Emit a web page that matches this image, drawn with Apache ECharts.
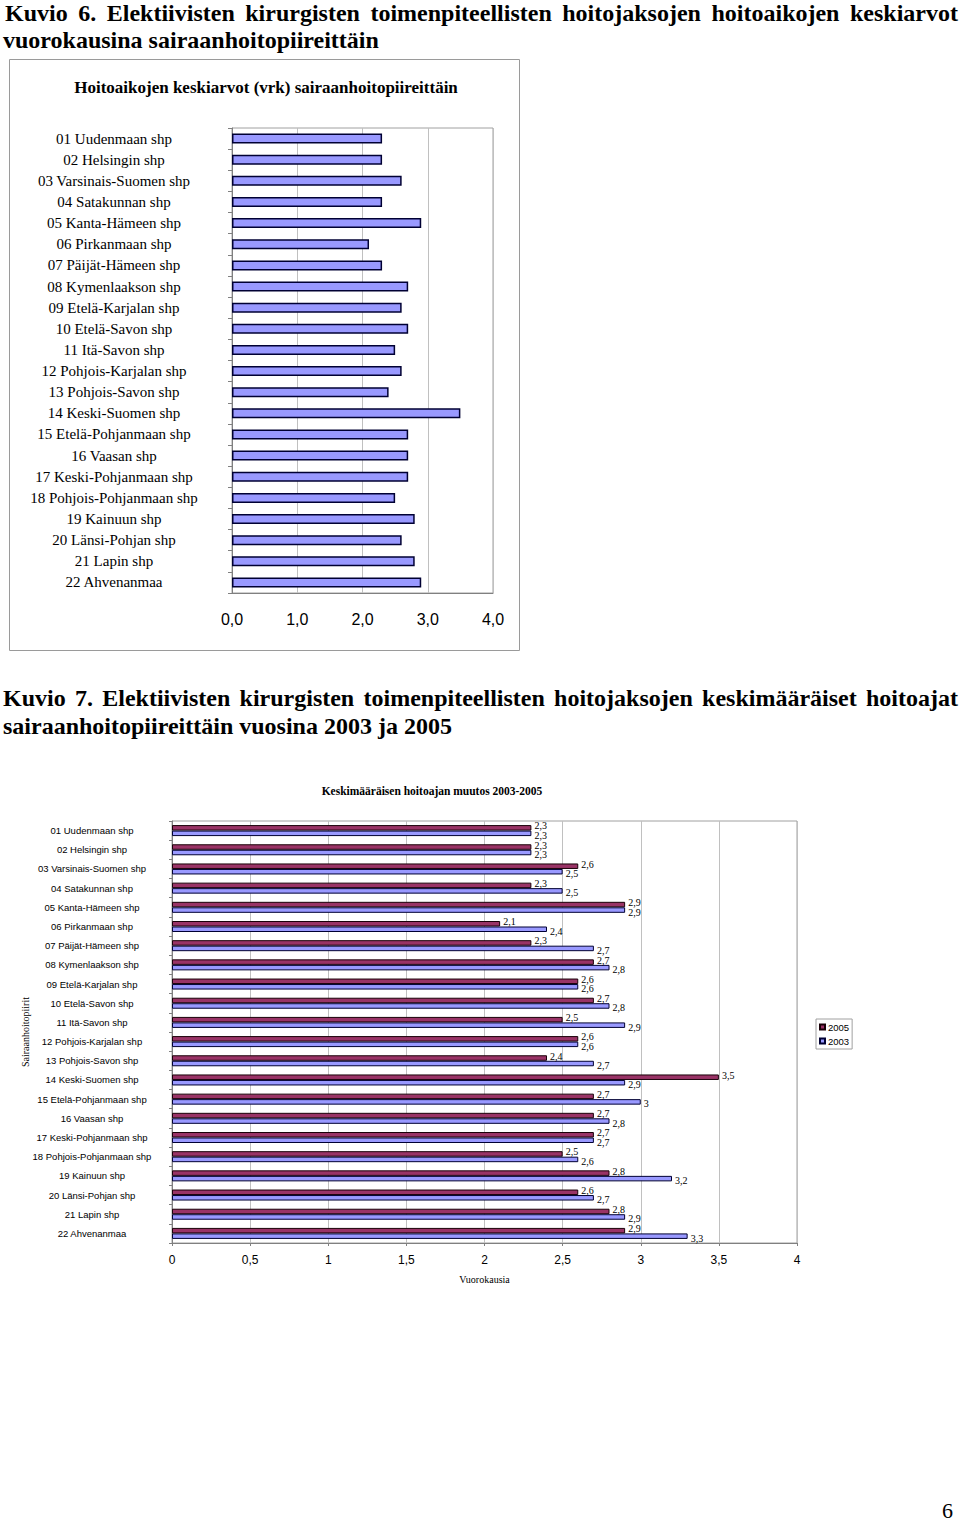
<!DOCTYPE html>
<html><head><meta charset="utf-8">
<script src="https://cdn.jsdelivr.net/npm/echarts@6/dist/echarts.min.js"></script>
<style>
html,body{margin:0;padding:0;background:#fff;}
#page{position:relative;width:960px;height:1524px;overflow:hidden;background:#fff;}
#chart{position:absolute;left:0;top:0;width:960px;height:1524px;}
.h{position:absolute;font-family:'Liberation Serif','Times New Roman',serif;font-weight:bold;font-size:24px;line-height:27px;color:#000;white-space:nowrap;}
.j{text-align:justify;text-align-last:justify;white-space:normal;}
.pn{position:absolute;font-family:'Liberation Serif',serif;font-size:22px;line-height:22px;color:#000;left:942px;top:1500px;}
</style></head>
<body><div id="page">
<div id="chart"></div>
<div class="h j" style="left:5px;top:0px;width:953px;">Kuvio 6. Elektiivisten kirurgisten toimenpiteellisten hoitojaksojen hoitoaikojen keskiarvot</div>
<div class="h" style="left:3px;top:27px;">vuorokausina sairaanhoitopiireittäin</div>
<div class="h j" style="left:3px;top:685px;width:955px;">Kuvio 7. Elektiivisten kirurgisten toimenpiteellisten hoitojaksojen keskimääräiset hoitoajat</div>
<div class="h" style="left:3px;top:713px;">sairaanhoitopiireittäin vuosina 2003 ja 2005</div>
<div class="pn">6</div>
</div>
<script>
const categories = ['01 Uudenmaan shp','02 Helsingin shp','03 Varsinais-Suomen shp','04 Satakunnan shp','05 Kanta-Hämeen shp','06 Pirkanmaan shp','07 Päijät-Hämeen shp','08 Kymenlaakson shp','09 Etelä-Karjalan shp','10 Etelä-Savon shp','11 Itä-Savon shp','12 Pohjois-Karjalan shp','13 Pohjois-Savon shp','14 Keski-Suomen shp','15 Etelä-Pohjanmaan shp','16 Vaasan shp','17 Keski-Pohjanmaan shp','18 Pohjois-Pohjanmaan shp','19 Kainuun shp','20 Länsi-Pohjan shp','21 Lapin shp','22 Ahvenanmaa'];
const kuvio6Values = [2.3,2.3,2.6,2.3,2.9,2.1,2.3,2.7,2.6,2.7,2.5,2.6,2.4,3.5,2.7,2.7,2.7,2.5,2.8,2.6,2.8,2.9];
const values2005 = [2.3,2.3,2.6,2.3,2.9,2.1,2.3,2.7,2.6,2.7,2.5,2.6,2.4,3.5,2.7,2.7,2.7,2.5,2.8,2.6,2.8,2.9];
const values2003 = [2.3,2.3,2.5,2.5,2.9,2.4,2.7,2.8,2.6,2.8,2.9,2.6,2.7,2.9,3.0,2.8,2.7,2.6,3.2,2.7,2.9,3.3];
const seriesNames = ['2005','2003'];
const title6 = 'Hoitoaikojen keskiarvot (vrk) sairaanhoitopiireittäin';
const title7 = 'Keskimääräisen hoitoajan muutos 2003-2005';
const xName7 = 'Vuorokausia';
const yName7 = 'Sairaanhoitopiirit';

const serif = '"Liberation Serif","Times New Roman",serif';
const sans = '"Liberation Sans",Arial,sans-serif';
const comma = v => String(v).replace('.', ',');

const chart = echarts.init(document.getElementById('chart'), null, {renderer: 'svg', width: 960, height: 1524});
chart.setOption({
  animation: false,
  backgroundColor: 'transparent',
  graphic: [
    {type: 'rect', shape: {x: 9.5, y: 59.5, width: 510, height: 591}, style: {fill: 'none', stroke: '#9a9a9a', lineWidth: 1}, z: -10},
    {type: 'text', x: 266, y: 87, style: {text: title6, fontFamily: serif, fontWeight: 'bold', fontSize: 17, align: 'center', verticalAlign: 'middle', fill: '#000'}},
    {type: 'text', x: 432, y: 791, style: {text: title7, fontFamily: serif, fontWeight: 'bold', fontSize: 11.5, align: 'center', verticalAlign: 'middle', fill: '#000'}}
  ],
  grid: [
    {left: 232, top: 128, width: 261, height: 465, show: true, borderColor: '#a0a0a0', borderWidth: 1, containLabel: false},
    {left: 172, top: 821, width: 625, height: 422, show: true, borderColor: '#a0a0a0', borderWidth: 1, containLabel: false}
  ],
  xAxis: [
    {type: 'value', gridIndex: 0, min: 0, max: 4, interval: 1,
     axisLine: {show: true, lineStyle: {color: '#808080'}}, axisTick: {show: false},
     splitLine: {show: true, lineStyle: {color: '#c0c0c0'}},
     axisLabel: {fontFamily: sans, fontSize: 16, color: '#000', margin: 18, formatter: v => v.toFixed(1).replace('.', ',')}},
    {type: 'value', gridIndex: 1, min: 0, max: 4, interval: 0.5,
     axisLine: {show: true, lineStyle: {color: '#808080'}}, axisTick: {show: true, length: 3, lineStyle: {color: '#808080'}},
     splitLine: {show: true, lineStyle: {color: '#c0c0c0'}},
     axisLabel: {fontFamily: sans, fontSize: 12, color: '#000', margin: 11, formatter: comma},
     name: xName7, nameLocation: 'middle', nameGap: 31, nameTextStyle: {fontFamily: serif, fontSize: 10, color: '#000'}}
  ],
  yAxis: [
    {type: 'category', gridIndex: 0, inverse: true, data: categories,
     axisLine: {show: true, lineStyle: {color: '#808080'}},
     axisTick: {show: true, length: 4, lineStyle: {color: '#808080'}},
     axisLabel: {fontFamily: serif, fontSize: 15, color: '#000', align: 'center', margin: 118, interval: 0}},
    {type: 'category', gridIndex: 1, inverse: true, data: categories,
     axisLine: {show: true, lineStyle: {color: '#808080'}},
     axisTick: {show: true, length: 3, lineStyle: {color: '#808080'}},
     axisLabel: {fontFamily: sans, fontSize: 9.5, color: '#000', align: 'center', margin: 80, interval: 0},
     name: yName7, nameLocation: 'middle', nameGap: 142, nameRotate: 90, nameMoveOverlap: false,
     nameTextStyle: {fontFamily: serif, fontSize: 10, color: '#000'}}
  ],
  legend: {
    data: seriesNames, orient: 'vertical', left: 816, top: 1019,
    itemWidth: 5, itemHeight: 5, itemGap: 4, icon: 'rect',
    borderColor: '#a0a0a0', borderWidth: 1, padding: [3, 3, 3, 3],
    textStyle: {fontFamily: sans, fontSize: 9.5, color: '#000', padding: [0, 0, 0, -2]}
  },
  series: [
    {type: 'bar', xAxisIndex: 0, yAxisIndex: 0, data: kuvio6Values, barWidth: 10,
     itemStyle: {color: '#9999FF', borderColor: '#000033', borderWidth: 1.5}},
    {type: 'bar', name: seriesNames[0], xAxisIndex: 1, yAxisIndex: 1, data: values2005, barWidth: 5.5, barGap: '0%',
     itemStyle: {color: '#993366', borderColor: '#1a0008', borderWidth: 1},
     label: {show: true, position: 'right', distance: 3, offset: [0, -2], fontFamily: serif, fontSize: 10, color: '#000', formatter: p => comma(p.value)}},
    {type: 'bar', name: seriesNames[1], xAxisIndex: 1, yAxisIndex: 1, data: values2003, barWidth: 5.5, barGap: '0%',
     itemStyle: {color: '#9999FF', borderColor: '#000033', borderWidth: 1},
     label: {show: true, position: 'right', distance: 3, offset: [0, 2], fontFamily: serif, fontSize: 10, color: '#000', formatter: p => comma(p.value)}}
  ]
});
</script>
</body></html>
